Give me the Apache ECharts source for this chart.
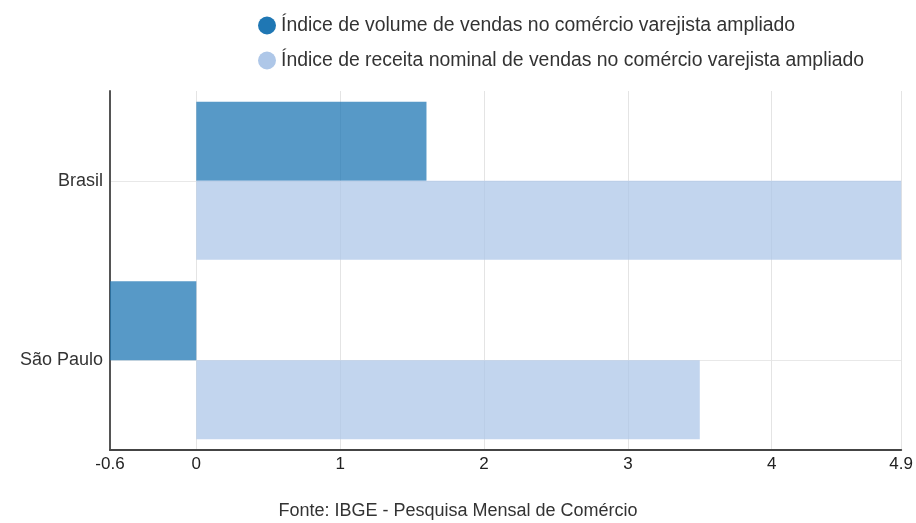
<!DOCTYPE html>
<html>
<head>
<meta charset="utf-8">
<script src="https://cdn.jsdelivr.net/npm/echarts@6/dist/echarts.min.js"></script>
<style>
    html, body { margin: 0; padding: 0; background: #fff; }
    #chart { width: 916px; height: 523px; }
</style>
</head>
<body>
<div id="chart"></div>
<script>
    // dados
    const categorias = ['Brasil', 'São Paulo'];
    const volume = [1.6, -0.6];
    const receita = [4.9, 3.5];
    const ticksX = [-0.6, 0, 1, 2, 3, 4, 4.9];
    const nomes = [
        'Índice de volume de vendas no comércio varejista ampliado',
        'Índice de receita nominal de vendas no comércio varejista ampliado'
    ];
    const fonte = 'Fonte: IBGE - Pesquisa Mensal de Comércio';

    let myChart = echarts.init(document.getElementById('chart'));
    let option = {
        textStyle: { fontFamily: "'Liberation Sans', Arial, sans-serif" },
        color: ['#1f77b4', '#aec7e8'],
        title: {
            text: fonte,
            left: 'center',
            bottom: -2,
            textStyle: { fontSize: 18, fontWeight: 'normal', color: '#333' }
        },
        legend: {
            orient: 'vertical',
            left: 253,
            top: 11,
            icon: 'circle',
            itemWidth: 18,
            itemHeight: 18,
            itemGap: 16,
            textStyle: { fontSize: 19.4, color: '#333' },
            data: [
                { name: nomes[0], itemStyle: { opacity: 1 } },
                { name: nomes[1], itemStyle: { opacity: 1 } }
            ]
        },
        grid: { left: 110, right: 12, top: 91, bottom: 73 },
        xAxis: {
            type: 'value',
            min: -0.6,
            max: 4.9,
            axisLine: { show: true, lineStyle: { color: '#444', width: 2 } },
            axisTick: { show: false, customValues: ticksX },
            axisLabel: { customValues: ticksX, fontSize: 17, color: '#222', margin: 6 },
            splitLine: { show: true, lineStyle: { color: '#e4e4e4' } }
        },
        yAxis: {
            type: 'category',
            inverse: true,
            data: categorias,
            axisLine: { show: true, onZero: false, lineStyle: { color: '#555', width: 2 } },
            axisTick: { show: false, alignWithLabel: true },
            axisLabel: { fontSize: 18, color: '#333', margin: 7 },
            splitLine: { show: true, alignWithLabel: true, lineStyle: { color: '#e8e8e8' } }
        },
        series: [
            {
                name: nomes[0],
                type: 'bar',
                data: volume,
                barWidth: 79,
                barGap: '0%',
                itemStyle: { opacity: 0.75 }
            },
            {
                name: nomes[1],
                type: 'bar',
                data: receita,
                barWidth: 79,
                barGap: '0%',
                itemStyle: { opacity: 0.75 }
            }
        ]
    };
    myChart.setOption(option);
</script>
</body>
</html>
